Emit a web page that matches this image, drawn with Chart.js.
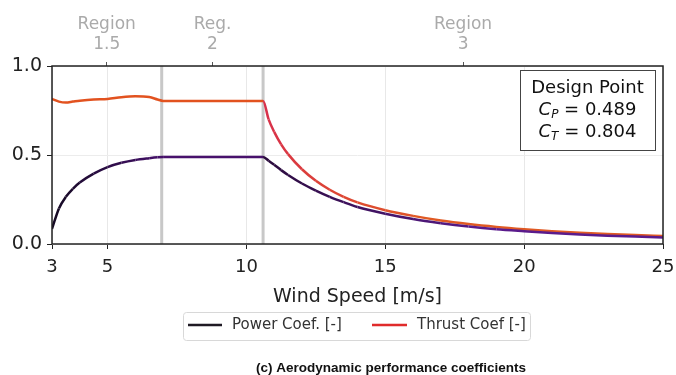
<!DOCTYPE html>
<html>
<head>
<meta charset="utf-8">
<script src="https://cdn.jsdelivr.net/npm/chart.js@4/dist/chart.umd.min.js"></script>
<style>
  html, body { margin: 0; padding: 0; background: #fff; }
  #wrap { width: 676px; height: 375px; position: relative; }
</style>
</head>
<body>
<div id="wrap"><canvas id="coefChart" width="676" height="375"></canvas></div>
<script>
// wind speed samples [m/s] and coefficients
const windSpeed = [3, 3.25, 3.5, 3.75, 4, 4.5, 5, 5.5, 6, 6.5, 6.8, 7, 8, 9, 10, 10.6, 10.8, 11, 11.25, 11.5, 12, 12.5, 13, 13.5, 14, 15, 16, 17, 18, 19, 20, 21, 22, 23, 24, 25];
const powerCoef = [0.085, 0.20, 0.265, 0.31, 0.345, 0.395, 0.432, 0.456, 0.472, 0.482, 0.487, 0.489, 0.489, 0.489, 0.489, 0.489, 0.468, 0.445, 0.415, 0.388, 0.34, 0.30, 0.265, 0.235, 0.208, 0.17, 0.14, 0.117, 0.098, 0.083, 0.072, 0.062, 0.054, 0.047, 0.042, 0.037];
const thrustCoef = [0.815, 0.80, 0.795, 0.80, 0.805, 0.812, 0.815, 0.825, 0.83, 0.826, 0.812, 0.804, 0.804, 0.804, 0.804, 0.804, 0.70, 0.63, 0.56, 0.505, 0.42, 0.355, 0.305, 0.265, 0.234, 0.19, 0.158, 0.132, 0.112, 0.096, 0.083, 0.072, 0.063, 0.056, 0.05, 0.045];

const xTicks = [3, 5, 10, 15, 20, 25];
const yTicks = [0, 0.5, 1.0];
const yTickLabels = ['0.0', '0.5', '1.0'];

// operating regions (boundaries and label positions on top axis)
const regionBounds = [6.95, 10.6];
const regionCenters = [4.97, 8.78, 17.8];
const regionLabels = [['Region', '1.5'], ['Reg.', '2'], ['Region', '3']];

const seriesNames = ['Power Coef. [-]', 'Thrust Coef [-]'];
const legendColors = ['#1f1a24', '#e02b2b'];
const designLines = [['Design Point'], ['C', 'P', ' = 0.489'], ['C', 'T', ' = 0.804']];
const caption = '(c) Aerodynamic performance coefficients';

const FONT = '"DejaVu Sans", sans-serif';

function mix(a, b, t) {
    t = Math.max(0, Math.min(1, t));
    const pa = a.match(/\w\w/g).map(h => parseInt(h, 16));
    const pb = b.match(/\w\w/g).map(h => parseInt(h, 16));
    return 'rgb(' + pa.map((v, i) => Math.round(v + (pb[i] - v) * t)).join(',') + ')';
}

function powerColor(v) {
    if (v < 7) return mix('#140a22', '#45106a', (v - 3) / 4);
    if (v <= 10.6) return '#48116c';
    return mix('#2a0b3c', '#5a1b8c', (v - 10.6) / 8);
}

function thrustColor(v) {
    if (v <= 10.6) return '#e2521f';
    if (v < 12.5) return mix('#d8304c', '#dc4038', (v - 10.6) / 1.9);
    return mix('#dc4038', '#e05a24', (v - 12.5) / 4);
}

function segColor(fn) {
    return ctx => fn((ctx.p0.parsed.x + ctx.p1.parsed.x) / 2);
}

function noSidePadding(scale) {
    scale.paddingLeft = 0;
    scale.paddingRight = 0;
}

const regionLinesPlugin = {
    id: 'regionLines',
    beforeDatasetsDraw(chart) {
        const { ctx, chartArea, scales } = chart;
        ctx.save();
        ctx.strokeStyle = 'rgba(170,170,170,0.65)';
        ctx.lineWidth = 3;
        regionBounds.forEach(b => {
            const px = scales.x.getPixelForValue(b);
            ctx.beginPath();
            ctx.moveTo(px, chartArea.top);
            ctx.lineTo(px, chartArea.bottom);
            ctx.stroke();
        });
        ctx.restore();
    }
};

const decorPlugin = {
    id: 'decor',
    afterDraw(chart) {
        const { ctx, chartArea } = chart;
        ctx.save();

        // plot frame
        ctx.strokeStyle = '#222';
        ctx.lineWidth = 1.5;
        ctx.strokeRect(chartArea.left, chartArea.top, chartArea.right - chartArea.left, chartArea.bottom - chartArea.top);

        // design point box
        const bx = 520, by = 70, bw = 135, bh = 80;
        ctx.fillStyle = '#fff';
        ctx.fillRect(bx, by, bw, bh);
        ctx.strokeStyle = '#444';
        ctx.lineWidth = 1;
        ctx.strokeRect(bx + 0.5, by + 0.5, bw, bh);
        ctx.fillStyle = '#111';
        ctx.textBaseline = 'middle';
        const cx = bx + bw / 2;
        designLines.forEach((parts, i) => {
            const y = by + 18 + i * 22;
            if (parts.length === 1) {
                ctx.font = '18px ' + FONT;
                ctx.textAlign = 'center';
                ctx.fillText(parts[0], cx, y);
                return;
            }
            const fMain = 'italic 18px ' + FONT, fSub = 'italic 12px ' + FONT, fVal = '18px ' + FONT;
            ctx.font = fMain; const w1 = ctx.measureText(parts[0]).width;
            ctx.font = fSub; const w2 = ctx.measureText(parts[1]).width;
            ctx.font = fVal; const w3 = ctx.measureText(parts[2]).width;
            let x = cx - (w1 + w2 + w3) / 2;
            ctx.textAlign = 'left';
            ctx.font = fMain; ctx.fillText(parts[0], x, y); x += w1;
            ctx.font = fSub; ctx.fillText(parts[1], x, y + 5); x += w2;
            ctx.font = fVal; ctx.fillText(parts[2], x, y);
        });

        // legend box
        const lx = 183, ly = 312, lw = 347, lh = 28;
        ctx.strokeStyle = '#d8d8d8';
        ctx.lineWidth = 1;
        ctx.beginPath();
        ctx.roundRect(lx + 0.5, ly + 0.5, lw, lh, 3);
        ctx.stroke();
        const items = [{ x0: 188, x1: 222, tx: 232 }, { x0: 372, x1: 407, tx: 417 }];
        ctx.font = '15px ' + FONT;
        ctx.textAlign = 'left';
        items.forEach((it, i) => {
            ctx.strokeStyle = legendColors[i];
            ctx.lineWidth = 2.5;
            ctx.beginPath();
            ctx.moveTo(it.x0, ly + 13);
            ctx.lineTo(it.x1, ly + 13);
            ctx.stroke();
            ctx.fillStyle = '#333';
            ctx.fillText(seriesNames[i], it.tx, ly + 13);
        });

        // caption
        ctx.font = 'bold 13.5px "Liberation Sans", Arial, sans-serif';
        ctx.fillStyle = '#111';
        ctx.textAlign = 'center';
        ctx.fillText(caption, 391, 368);

        ctx.restore();
    }
};

const ctx = document.getElementById('coefChart').getContext('2d');
new Chart(ctx, {
    type: 'line',
    data: {
        datasets: [
            {
                label: seriesNames[0],
                data: windSpeed.map((v, i) => ({ x: v, y: powerCoef[i] })),
                borderColor: '#48116c',
                segment: { borderColor: segColor(powerColor) },
                borderWidth: 2.5,
                pointRadius: 0,
                cubicInterpolationMode: 'monotone',
                fill: false
            },
            {
                label: seriesNames[1],
                data: windSpeed.map((v, i) => ({ x: v, y: thrustCoef[i] })),
                borderColor: '#e2521f',
                segment: { borderColor: segColor(thrustColor) },
                borderWidth: 2.5,
                pointRadius: 0,
                cubicInterpolationMode: 'monotone',
                fill: false
            }
        ]
    },
    options: {
        responsive: false,
        animation: false,
        layout: { padding: { left: 0, right: 13, top: 0, bottom: 67 } },
        plugins: {
            legend: { display: false },
            tooltip: { enabled: false }
        },
        scales: {
            x: {
                type: 'linear',
                position: 'bottom',
                min: 3,
                max: 25,
                afterBuildTicks: scale => { scale.ticks = xTicks.map(v => ({ value: v })); },
                afterFit: scale => { scale.height = 64; noSidePadding(scale); },
                ticks: {
                    color: '#222',
                    font: { family: FONT, size: 18 },
                    padding: 8,
                    maxRotation: 0,
                    autoSkip: false,
                    callback: v => String(v)
                },
                grid: { color: '#e8e8e8', tickColor: '#222', tickLength: 5, lineWidth: 1 },
                border: { display: false },
                title: {
                    display: true,
                    text: 'Wind Speed [m/s]',
                    color: '#222',
                    font: { family: FONT, size: 19 },
                    padding: { top: 0, bottom: 0 }
                }
            },
            xTop: {
                type: 'linear',
                position: 'top',
                min: 3,
                max: 25,
                afterBuildTicks: scale => { scale.ticks = regionCenters.map(v => ({ value: v })); },
                afterFit: scale => { scale.height = 66; noSidePadding(scale); },
                ticks: {
                    color: '#aaa',
                    font: { family: FONT, size: 17, lineHeight: 1.2 },
                    padding: 7,
                    maxRotation: 0,
                    autoSkip: false,
                    callback: (v, i) => regionLabels[i]
                },
                grid: { drawOnChartArea: false, tickColor: '#555', tickLength: 4 },
                border: { display: false }
            },
            y: {
                min: 0,
                max: 1,
                afterBuildTicks: scale => { scale.ticks = yTicks.map(v => ({ value: v })); },
                afterFit: scale => { scale.width = 52; },
                ticks: {
                    color: '#222',
                    font: { family: FONT, size: 19 },
                    padding: 5,
                    callback: (v, i) => yTickLabels[i]
                },
                grid: { color: '#ececec', tickColor: '#222', tickLength: 5 },
                border: { display: false }
            }
        }
    },
    plugins: [regionLinesPlugin, decorPlugin]
});
</script>
</body>
</html>
